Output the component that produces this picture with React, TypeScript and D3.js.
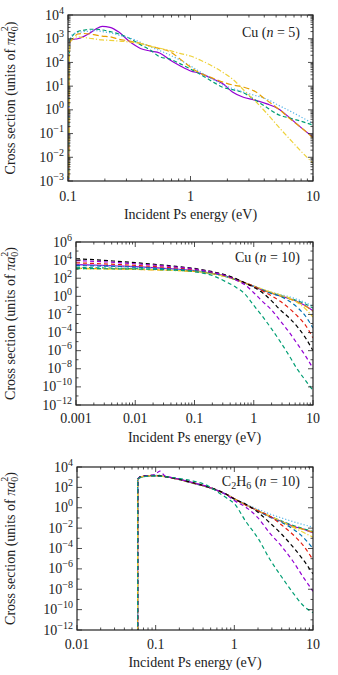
import React from 'react';
import * as d3 from 'd3';

// All cross sections are stored as log10 values (units of pi a0^2).

// ---- Cu (n = 5)
const cu5Energy = [0.1015, 0.102, 0.104, 0.11, 0.12, 0.135, 0.15, 0.17, 0.19, 0.22, 0.26, 0.32, 0.39, 0.47, 0.56, 0.68, 0.82, 1, 1.2, 1.5, 1.84, 2.2, 2.7, 3.3, 4.2, 5.2, 6.5, 8, 10];
const cu5L0 = [-4, 1.8, 2.9, 2.97, 3.0, 3.1, 3.23, 3.42, 3.52, 3.48, 3.28, 2.87, 2.59, 2.48, 2.4, 2.1, 1.86, 1.64, 1.54, 1.32, 1.1, 0.75, 0.53, 0.42, 0.25, 0.05, -0.35, -0.75, -1.15];
const cu5L1 = [-4, 1.8, 2.95, 3.15, 3.3, 3.36, 3.4, 3.4, 3.37, 3.3, 3.2, 3.01, 2.75, 2.52, 2.24, 2.14, 1.95, 1.72, 1.5, 1.2, 0.95, 0.85, 0.72, 0.45, 0.1, -0.2, -0.35, -0.48, -0.64];
const cu5L2 = [-4, 1.8, 2.95, 3.2, 3.25, 3.3, 3.32, 3.34, 3.3, 3.25, 3.15, 3.03, 2.85, 2.66, 2.5, 2.31, 2.1, 1.85, 1.6, 1.3, 1.05, 0.9, 0.75, 0.62, 0.45, 0.2, -0.05, -0.3, -0.58];
const cu5L3 = [-4, 1.8, 2.85, 3.0, 3.2, 3.22, 3.2, 3.15, 3.11, 3.08, 2.98, 2.9, 2.8, 2.69, 2.58, 2.45, 2.15, 1.8, 1.55, 1.35, 1.17, 1.05, 0.96, 0.8, 0.4, 0.05, -0.38, -0.75, -1.18];
const cu5L4 = [-4, 1.8, 2.85, 3.0, 3.08, 3.05, 3.02, 2.98, 2.95, 2.93, 2.9, 2.86, 2.8, 2.68, 2.6, 2.5, 2.38, 2.27, 2.1, 1.85, 1.58, 1.3, 0.85, 0.42, -0.15, -0.7, -1.25, -1.75, -2.25];
const cu5XTicks = [0.1, 1, 10];
const cu5YTicks = [4, 3, 2, 1, 0, -1, -2, -3];

// ---- Cu (n = 10)
const cu10Energy = [0.001, 0.002, 0.005, 0.01, 0.02, 0.05, 0.1, 0.2, 0.33, 0.5, 0.7, 1, 1.4, 2, 2.8, 4, 5.5, 7.5, 10];
const cu10L0 = [3.5, 3.45, 3.35, 3.28, 3.18, 3.0, 2.85, 2.55, 2.25, 1.85, 1.5, 1.1, 0.7, 0.35, 0.05, -0.25, -0.6, -1.05, -1.6];
const cu10L1 = [3.2, 3.15, 3.1, 3.05, 2.98, 2.88, 2.78, 2.5, 2.2, 1.82, 1.48, 1.1, 0.72, 0.38, 0.1, -0.2, -0.5, -0.85, -1.3];
const cu10L2 = [3.45, 3.4, 3.3, 3.22, 3.12, 2.98, 2.82, 2.52, 2.22, 1.85, 1.5, 1.15, 0.78, 0.45, 0.2, -0.05, -0.35, -0.7, -1.1];
const cu10L3 = [3.1, 3.07, 3.02, 2.98, 2.93, 2.85, 2.75, 2.5, 2.2, 1.83, 1.48, 1.1, 0.72, 0.38, 0.05, -0.28, -0.65, -1.1, -1.65];
const cu10L4 = [3.05, 3.03, 3.0, 2.97, 2.92, 2.84, 2.74, 2.48, 2.18, 1.82, 1.5, 1.15, 0.8, 0.45, 0.15, -0.2, -0.7, -1.4, -2.3];
const cu10L5 = [3.4, 3.36, 3.3, 3.22, 3.12, 2.98, 2.85, 2.58, 2.28, 1.9, 1.52, 1.1, 0.68, 0.3, 0.0, -0.55, -1.25, -2.2, -3.5];
const cu10L6 = [3.7, 3.63, 3.52, 3.42, 3.3, 3.13, 2.97, 2.66, 2.33, 1.92, 1.52, 1.1, 0.6, 0.05, -0.55, -1.35, -2.2, -3.2, -4.6];
const cu10L7 = [4.15, 4.05, 3.87, 3.72, 3.55, 3.3, 3.08, 2.72, 2.38, 1.95, 1.5, 1.0, 0.4, -0.5, -1.5, -2.4, -3.4, -4.6, -6.0];
const cu10L8 = [3.95, 3.87, 3.73, 3.6, 3.45, 3.23, 3.02, 2.66, 2.3, 1.8, 1.3, 0.4, -0.55, -1.5, -2.7, -4.0, -5.3, -6.6, -7.95];
const cu10L9 = [3.05, 3.05, 3.04, 3.02, 2.98, 2.88, 2.72, 2.3, 1.65, 1.0, 0.3, -1.0, -2.2, -3.6, -5.0, -6.6, -8.1, -9.3, -10.4];
const cu10XTicks = [0.001, 0.01, 0.1, 1, 10];
const cu10YTicks = [6, 4, 2, 0, -2, -4, -6, -8, -10, -12];

// ---- C2H6 (n = 10)
const c2h6Energy = [0.059, 0.0592, 0.062, 0.07, 0.08, 0.09, 0.1, 0.113, 0.13, 0.15, 0.2, 0.3, 0.45, 0.6, 0.8, 1, 1.4, 2, 2.8, 4, 5.5, 7.5, 10];
const c2h6L0 = [-13, 2.7, 2.95, 3.08, 3.12, 3.15, 3.15, 3.12, 3.06, 2.98, 2.78, 2.42, 2.05, 1.72, 1.3, 0.88, 0.3, -0.3, -0.85, -1.35, -1.8, -2.1, -2.45];
const c2h6L1 = [-13, 2.65, 2.9, 3.05, 3.1, 3.12, 3.12, 3.1, 3.05, 2.97, 2.76, 2.4, 2.03, 1.7, 1.28, 0.85, 0.28, -0.3, -0.82, -1.3, -1.72, -2.05, -2.35];
const c2h6L2 = [-13, 2.7, 2.92, 3.05, 3.1, 3.14, 3.18, 3.2, 3.1, 3.0, 2.78, 2.42, 2.05, 1.72, 1.3, 0.9, 0.35, -0.15, -0.6, -1.0, -1.35, -1.65, -1.9];
const c2h6L3 = [-13, 2.7, 2.95, 3.07, 3.12, 3.14, 3.14, 3.11, 3.05, 2.97, 2.77, 2.42, 2.05, 1.72, 1.3, 0.88, 0.3, -0.3, -0.85, -1.38, -1.82, -2.12, -2.4];
const c2h6L4 = [-13, 2.72, 2.97, 3.1, 3.14, 3.16, 3.15, 3.12, 3.06, 2.98, 2.78, 2.42, 2.05, 1.72, 1.3, 0.88, 0.3, -0.28, -0.8, -1.35, -1.9, -2.4, -2.9];
const c2h6L5 = [-13, 2.72, 2.96, 3.08, 3.12, 3.14, 3.14, 3.11, 3.05, 2.97, 2.77, 2.42, 2.05, 1.72, 1.3, 0.88, 0.3, -0.32, -0.9, -1.45, -2.05, -2.9, -4.0];
const c2h6L6 = [-13, 2.75, 2.98, 3.1, 3.14, 3.16, 3.15, 3.12, 3.06, 2.98, 2.78, 2.43, 2.06, 1.73, 1.3, 0.88, 0.25, -0.3, -0.8, -1.7, -2.6, -3.7, -5.1];
const c2h6L7 = [-13, 2.78, 3.0, 3.12, 3.16, 3.18, 3.17, 3.13, 3.07, 2.99, 2.8, 2.45, 2.08, 1.75, 1.3, 0.85, 0.35, -0.45, -1.45, -2.6, -3.8, -5.1, -6.5];
const c2h6L8 = [-13, 2.75, 2.98, 3.1, 3.15, 3.2, 3.3, 3.6, 3.15, 3.0, 2.8, 2.45, 2.08, 1.72, 1.25, 0.7, 0.05, -1.0, -2.45, -3.8, -5.2, -6.8, -8.2];
const c2h6L9 = [-13, 2.75, 2.95, 3.05, 3.1, 3.12, 3.12, 3.1, 3.06, 3.0, 2.87, 2.62, 2.2, 1.6, 0.95, 0.4, -1.35, -3.0, -5.0, -6.8, -8.3, -9.6, -10.3];
const c2h6XTicks = [0.01, 0.1, 1, 10];
const c2h6YTicks = [4, 2, 0, -2, -4, -6, -8, -10, -12];

const colors = ['#9400d3', '#009e73', '#56b4e9', '#e69f00', '#eed23a', '#0072b2', '#e51e10', '#000000', '#9400d3', '#009e73'];
const dashes = ['', '4,2.5', '1.2,2', '6,3', '5,2,1.2,2', '4,3', '4,3', '4,3', '4,3', '4,3'];

const FONT = '"Liberation Serif", "DejaVu Serif", serif';

type PanelProps = {
  id: string;
  left: number; right: number; top: number; bottom: number;
  xMin: number; xMax: number; yMin: number; yMax: number;
  energy: number[];
  series: number[][];
  xTicks: number[];
  yTicks: number[];
  minorSub: boolean;
  tickLabelDy: number;
  titleDy: number;
  title: React.ReactNode;
  titleY: number;
};

function Panel(p: PanelProps) {
  const x = d3.scaleLog().domain([p.xMin, p.xMax]).range([p.left, p.right]);
  const y = d3.scaleLinear().domain([p.yMin, p.yMax]).range([p.bottom, p.top]);
  const line = d3.line<[number, number]>()
    .x(d => x(d[0]))
    .y(d => y(d[1]))
    .curve(d3.curveMonotoneX);

  // x minor ticks at 2..9 of each decade
  const xMinor: number[] = [];
  for (let e = Math.floor(Math.log10(p.xMin)); e < Math.log10(p.xMax); e++) {
    for (let k = 2; k <= 9; k++) {
      const v = k * Math.pow(10, e);
      if (v > p.xMin && v < p.xMax) xMinor.push(v);
    }
  }
  const xMajor = p.xTicks;

  const yMinor: number[] = [];
  if (p.minorSub) {
    for (let e = p.yMin; e < p.yMax; e++) {
      for (let k = 2; k <= 9; k++) yMinor.push(e + Math.log10(k));
    }
  } else {
    for (let e = p.yMin; e <= p.yMax; e++) if (!p.yTicks.includes(e)) yMinor.push(e);
  }

  const maj = 5, min = 2.5;
  const axisColor = '#222';

  return (
    <g>
      <defs>
        <clipPath id={`clip-${p.id}`}>
          <rect x={p.left} y={p.top} width={p.right - p.left} height={p.bottom - p.top} />
        </clipPath>
      </defs>
      <g clipPath={`url(#clip-${p.id})`}>
        {p.series.map((s, i) => (
          <path
            key={i}
            d={line(p.energy.map((e, j) => [e, s[j]] as [number, number])) || ''}
            fill="none"
            stroke={colors[i]}
            strokeWidth={1.2}
            strokeDasharray={dashes[i] || undefined}
          />
        ))}
      </g>
      <g stroke={axisColor} strokeWidth={0.8}>
        {xMajor.map(v => (
          <g key={`xm${v}`}>
            <line x1={x(v)} x2={x(v)} y1={p.bottom} y2={p.bottom - maj} />
            <line x1={x(v)} x2={x(v)} y1={p.top} y2={p.top + maj} />
          </g>
        ))}
        {xMinor.map(v => (
          <g key={`xn${v}`}>
            <line x1={x(v)} x2={x(v)} y1={p.bottom} y2={p.bottom - min} />
            <line x1={x(v)} x2={x(v)} y1={p.top} y2={p.top + min} />
          </g>
        ))}
        {p.yTicks.map(v => (
          <g key={`ym${v}`}>
            <line x1={p.left} x2={p.left + maj} y1={y(v)} y2={y(v)} />
            <line x1={p.right} x2={p.right - maj} y1={y(v)} y2={y(v)} />
          </g>
        ))}
        {yMinor.map(v => (
          <g key={`yn${v}`}>
            <line x1={p.left} x2={p.left + min} y1={y(v)} y2={y(v)} />
            <line x1={p.right} x2={p.right - min} y1={y(v)} y2={y(v)} />
          </g>
        ))}
      </g>
      <rect x={p.left} y={p.top} width={p.right - p.left} height={p.bottom - p.top}
        fill="none" stroke={axisColor} strokeWidth={1.2} />
      <g fontFamily={FONT} fontSize={14} fill="#222">
        {xMajor.map(v => (
          <text key={`xl${v}`} x={x(v)} y={p.bottom + p.tickLabelDy} textAnchor="middle">{String(v)}</text>
        ))}
        {p.yTicks.map(v => (
          <text key={`yl${v}`} x={p.left - 4} y={y(v) + 4.5} textAnchor="end">
            10<tspan dy={-6} fontSize={10}>{v < 0 ? `\u2212${-v}` : String(v)}</tspan>
          </text>
        ))}
        <text x={(p.left + p.right) / 2} y={p.bottom + p.titleDy} textAnchor="middle">Incident Ps energy (eV)</text>
        <text transform={`translate(15, ${(p.top + p.bottom) / 2}) rotate(-90)`} textAnchor="middle">
          Cross section (units of <tspan fontStyle="italic">πa</tspan>
          <tspan dy={3} fontSize={10}>0</tspan>
          <tspan dx={-5} dy={-10} fontSize={10}>2</tspan>
          <tspan dy={7}>)</tspan>
        </text>
        <text x={p.right - 13} y={p.titleY} textAnchor="end">{p.title}</text>
      </g>
    </g>
  );
}

export default function App() {
  return (
    <svg width={338} height={675} style={{ position: 'absolute', left: 0, top: 0, background: '#fff' }}>
      <rect width={338} height={675} fill="#fff" />
      <Panel id="cu5" left={68} right={313} top={15} bottom={181}
        xMin={0.1} xMax={10} yMin={-3} yMax={4}
        energy={cu5Energy} series={[cu5L0, cu5L1, cu5L2, cu5L3, cu5L4]}
        xTicks={cu5XTicks} yTicks={cu5YTicks} minorSub={true}
        tickLabelDy={20} titleDy={38} titleY={37}
        title={<>Cu (<tspan fontStyle="italic">n</tspan> = 5)</>} />
      <Panel id="cu10" left={76} right={313} top={242} bottom={405}
        xMin={0.001} xMax={10} yMin={-12} yMax={6}
        energy={cu10Energy} series={[cu10L0, cu10L1, cu10L2, cu10L3, cu10L4, cu10L5, cu10L6, cu10L7, cu10L8, cu10L9]}
        xTicks={cu10XTicks} yTicks={cu10YTicks} minorSub={false}
        tickLabelDy={18} titleDy={37} titleY={262}
        title={<>Cu (<tspan fontStyle="italic">n</tspan> = 10)</>} />
      <Panel id="c2h6" left={77} right={313} top={467} bottom={630}
        xMin={0.01} xMax={10} yMin={-12} yMax={4}
        energy={c2h6Energy} series={[c2h6L0, c2h6L1, c2h6L2, c2h6L3, c2h6L4, c2h6L5, c2h6L6, c2h6L7, c2h6L8, c2h6L9]}
        xTicks={c2h6XTicks} yTicks={c2h6YTicks} minorSub={false}
        tickLabelDy={19} titleDy={37} titleY={486}
        title={<>C<tspan dy={3} fontSize={10}>2</tspan><tspan dy={-3}>H</tspan><tspan dy={3} fontSize={10}>6</tspan><tspan dy={-3}> (</tspan><tspan fontStyle="italic">n</tspan> = 10)</>} />
    </svg>
  );
}
